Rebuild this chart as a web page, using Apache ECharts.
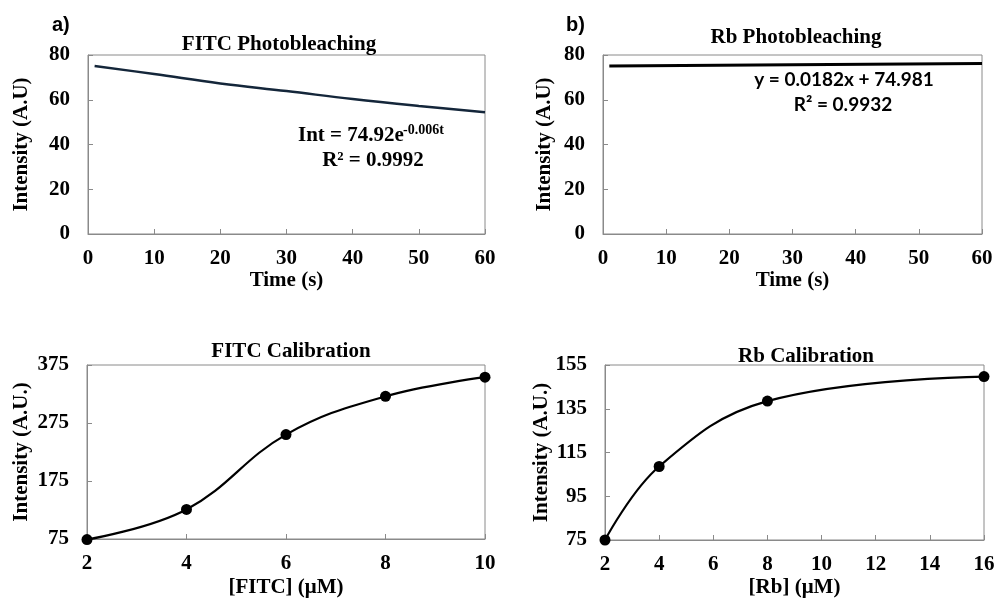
<!DOCTYPE html>
<html>
<head>
<meta charset="utf-8">
<script src="https://cdn.jsdelivr.net/npm/echarts@6/dist/echarts.min.js"></script>
<style>
  html, body { margin: 0; padding: 0; background: #fff; }
  #chart { width: 999px; height: 599px; }
</style>
</head>
<body>
<div id="chart"></div>
<script>
// FITC photobleaching: intensity over time
const fitcTime = [1, 10, 20, 30, 40, 50, 60];
const fitcIntensity = [75.1, 71.5, 67.3, 63.9, 60.3, 57.2, 54.4];

// Rb photobleaching: essentially flat
const rbTime = [1, 30, 60];
const rbIntensity = [75.1, 75.6, 76.2];

// Calibration curves
const fitcConc = [2, 4, 6, 8, 10];
const fitcCal = [74, 126, 255, 321, 354];
const rbConc = [2, 4, 8, 16];
const rbCal = [75, 108.6, 138.5, 149.7];

// Tick labels for the calibration intensity axes
const fitcCalTicks = [75, 175, 275, 375];
const rbCalTicks = [75, 95, 115, 135, 155];

const serif = '"Liberation Serif", "Times New Roman", serif';
const sans = '"Liberation Sans", Arial, sans-serif';
const axisGray = '#8a8a8a';

function pairs(xs, ys) { return xs.map((x, i) => [x, ys[i]]); }

const tickFont = { fontFamily: serif, fontWeight: 'bold', fontSize: 21, color: '#000' };
const nameFont = { fontFamily: serif, fontWeight: 'bold', fontSize: 21, color: '#000' };

function xAxis(idx, min, max, interval, name, gap) {
  return {
    type: 'value', gridIndex: idx, min: min, max: max, interval: interval,
    name: name, nameLocation: 'middle', nameGap: gap, nameTextStyle: nameFont,
    axisLine: { lineStyle: { color: axisGray, width: 1 } },
    axisTick: { inside: true, length: 5, lineStyle: { color: axisGray } },
    axisLabel: Object.assign({ margin: 14 }, tickFont),
    splitLine: { show: false }
  };
}

function yAxis(idx, min, max, interval, name, gap, customTicks) {
  const ax = {
    type: 'value', gridIndex: idx, min: min, max: max,
    name: name, nameLocation: 'middle', nameGap: gap, nameTextStyle: nameFont,
    axisLine: { show: true, lineStyle: { color: axisGray, width: 1 } },
    axisTick: { show: true, inside: true, length: 5, lineStyle: { color: axisGray } },
    axisLabel: Object.assign({ margin: 18 }, tickFont),
    splitLine: { show: false }
  };
  if (customTicks) {
    ax.axisTick.customValues = customTicks;
    ax.axisLabel.customValues = customTicks;
  } else {
    ax.interval = interval;
  }
  return ax;
}

const gridBase = { show: true, borderColor: axisGray, borderWidth: 1, backgroundColor: 'transparent', containLabel: false };
const titleFont = { fontFamily: serif, fontWeight: 'bold', fontSize: 21, color: '#000' };

const option = {
  backgroundColor: '#fff',
  animation: false,
  title: [
    { text: 'FITC Photobleaching', left: 274, top: 29, textAlign: 'center', textStyle: titleFont },
    { text: 'Rb Photobleaching', left: 791, top: 22, textAlign: 'center', textStyle: titleFont },
    { text: 'FITC Calibration', left: 286, top: 336, textAlign: 'center', textStyle: titleFont },
    { text: 'Rb Calibration', left: 801, top: 341, textAlign: 'center', textStyle: titleFont }
  ],
  grid: [
    Object.assign({ left: 88, top: 55, width: 397, height: 179 }, gridBase),
    Object.assign({ left: 603, top: 55, width: 379, height: 179 }, gridBase),
    Object.assign({ left: 87, top: 365, width: 398, height: 178 }, gridBase),
    Object.assign({ left: 605, top: 365, width: 379, height: 177 }, gridBase)
  ],
  xAxis: [
    xAxis(0, 0, 60, 10, 'Time (s)', 36),
    xAxis(1, 0, 60, 10, 'Time (s)', 36),
    xAxis(2, 2, 10, 2, '[FITC] (μM)', 38),
    xAxis(3, 2, 16, 2, '[Rb] (μM)', 37)
  ],
  yAxis: [
    yAxis(0, 0, 80, 20, 'Intensity (A.U)', 56),
    yAxis(1, 0, 80, 20, 'Intensity (A.U)', 48),
    yAxis(2, 75, 375, null, 'Intensity (A.U.)', 55, fitcCalTicks),
    yAxis(3, 75, 155, null, 'Intensity (A.U.)', 51, rbCalTicks)
  ],
  series: [
    {
      type: 'line', xAxisIndex: 0, yAxisIndex: 0, data: pairs(fitcTime, fitcIntensity),
      smooth: 0.4, showSymbol: false, clip: false,
      lineStyle: { color: '#14263a', width: 2.5 }
    },
    {
      type: 'line', xAxisIndex: 1, yAxisIndex: 1, data: pairs(rbTime, rbIntensity),
      smooth: false, showSymbol: false, clip: false,
      lineStyle: { color: '#000', width: 3 }
    },
    {
      type: 'line', xAxisIndex: 2, yAxisIndex: 2, data: pairs(fitcConc, fitcCal),
      smooth: 0.4, symbol: 'circle', symbolSize: 11, clip: false,
      lineStyle: { color: '#000', width: 2.2 }, itemStyle: { color: '#000' }
    },
    {
      type: 'line', xAxisIndex: 3, yAxisIndex: 3, data: pairs(rbConc, rbCal),
      smooth: 0.4, symbol: 'circle', symbolSize: 11, clip: false,
      lineStyle: { color: '#000', width: 2.2 }, itemStyle: { color: '#000' }
    }
  ],
  graphic: [
    { type: 'text', x: 52, y: 25, style: { text: 'a)', font: 'bold 20px ' + sans, fill: '#000', verticalAlign: 'middle' } },
    { type: 'text', x: 566, y: 25, style: { text: 'b)', font: 'bold 20px ' + sans, fill: '#000', verticalAlign: 'middle' } },
    // FITC fit equation with superscripted exponent
    { type: 'text', x: 298, y: 136, style: { text: 'Int = 74.92e', font: 'bold 21px ' + serif, fill: '#000', align: 'left', verticalAlign: 'middle' } },
    { type: 'text', x: 403, y: 130, style: { text: '-0.006t', font: 'bold 14px ' + serif, fill: '#000', align: 'left', verticalAlign: 'middle' } },
    { type: 'text', x: 373, y: 161, style: { text: 'R² = 0.9992', font: 'bold 21px ' + serif, fill: '#000', align: 'center', verticalAlign: 'middle' } },
    // Rb linear fit equation
    { type: 'text', x: 844, y: 80, style: { text: 'y = 0.0182x + 74.981', font: 'bold 19px Lato, ' + sans, fill: '#000', align: 'center', verticalAlign: 'middle' } },
    { type: 'text', x: 843, y: 105, style: { text: 'R² = 0.9932', font: 'bold 19px Lato, ' + sans, fill: '#000', align: 'center', verticalAlign: 'middle' } }
  ]
};

const chart = echarts.init(document.getElementById('chart'), null, { renderer: 'canvas' });
chart.setOption(option);
</script>
</body>
</html>
